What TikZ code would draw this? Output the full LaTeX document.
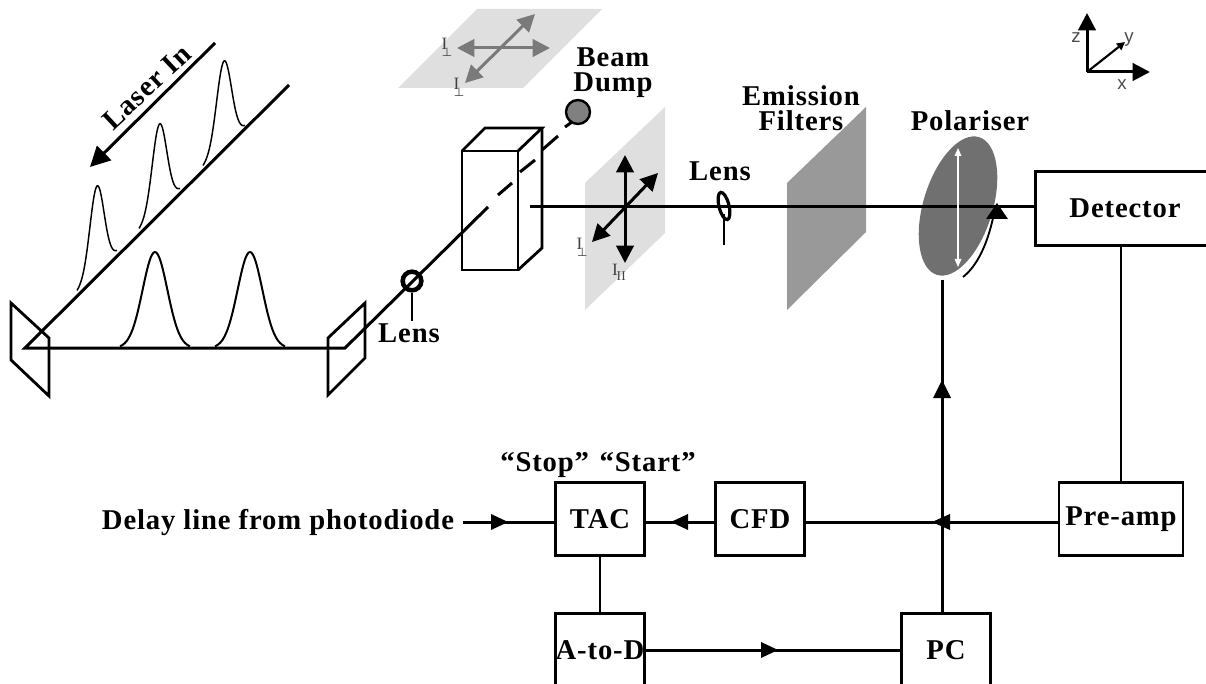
\documentclass[tikz,border=0pt]{standalone}
\usepackage{fontspec}
\setmainfont{Liberation Serif}[LetterSpace=3]
\setsansfont{Liberation Sans}
\usetikzlibrary{arrows.meta,shapes.geometric}
\newfontfamily\symfont{DejaVu Sans}
\definecolor{planelight}{HTML}{DFDFDF}
\definecolor{filtergray}{HTML}{999999}
\definecolor{polgray}{HTML}{707070}
\definecolor{arrowgray}{HTML}{7A7A7A}
\definecolor{dumpgray}{HTML}{808080}
\tikzset{
  beam/.style={line width=2.25pt,black},
  frame/.style={line width=2.1pt,black,line join=miter},
  blockbox/.style={draw=black,line width=2.1pt,minimum width=67pt,minimum height=54.5pt,inner sep=0pt,font=\fontsize{21.5}{21.5}\bfseries\selectfont,fill=white},
  lab/.style={inner sep=0pt,font=\fontsize{21.5}{21.5}\bfseries\selectfont,text=black},
  ilab/.style={inner sep=0pt,font=\fontsize{13}{13}\selectfont,text=black!75},
  axlab/.style={inner sep=0pt,font=\sffamily\fontsize{14}{14}\selectfont,text=black!70},
  bighead/.style={-{Triangle[length=13pt,width=13pt]}},
  bigheads/.style={{Triangle[length=13pt,width=13pt]}-{Triangle[length=13pt,width=13pt]}},
}
\newcommand{\pulsecurve}[6]{% x0 y0 x1 y1 height linewidth
  \draw[line width=#6,black,domain=0:1,samples=45,smooth,variable=\t]
    plot ({#1+\t*(#3-#1)},{#2+\t*(#4-#2)-#5*exp(-((\t-0.5)/0.25)*((\t-0.5)/0.25))});
}
\begin{document}
\begin{tikzpicture}[x=0.75pt,y=-0.75pt]
\useasboundingbox (0,0) rectangle (1206,684);
% planes
\fill[planelight] (398,88) -- (477,9) -- (602,9) -- (523,88) -- cycle;
\fill[planelight] (585,183) -- (665,107) -- (665,233) -- (585,310) -- cycle;
\fill[filtergray] (787,183) -- (866,107) -- (866,232) -- (787,310) -- cycle;
% top plane arrows
\coordinate (th1) at (457,48); \coordinate (th2) at (550,48);
\coordinate (td1) at (465,83); \coordinate (td2) at (535,14);
\draw[arrowgray,line width=2.25pt,bigheads] (th1) -- (th2);
\draw[arrowgray,line width=2.25pt,bigheads] (td1) -- (td2);
\node[ilab] (ta) at (447,47) {I\raisebox{-5pt}{\hspace{-4pt}\symfont\fontsize{9}{9}\selectfont ⊥}};
\node[ilab] (tb) at (459,87) {I\raisebox{-5pt}{\hspace{-4pt}\symfont\fontsize{9}{9}\selectfont ⊥}};
% pulses on incoming beam
\pulsecurve{77}{292}{117}{252}{86}{1.1pt}
\pulsecurve{139}{230}{180}{190}{86}{1.1pt}
\pulsecurve{203}{167}{245}{127}{86}{1.1pt}
% pulses on lower beam
\pulsecurve{120}{348}{190}{348}{96}{1.5pt}
\pulsecurve{215}{348}{285}{348}{96}{1.5pt}
% mirrors
\draw[frame] (11,303) -- (49,338) -- (49,396) -- (11,360) -- cycle;
\draw[frame] (328,338) -- (365,303) -- (365,358) -- (328,395) -- cycle;
% beams
\coordinate (m1) at (25,348); \coordinate (m2) at (345,348);
\coordinate (in) at (289,85);
\draw[beam,line join=miter] (in) -- (m1) -- (m2) -- (488,207);
\draw[beam] (498,195) -- (512,183);
\draw[beam] (520,172) -- (535,160);
\draw[beam] (542,150) -- (558,136);
\draw[beam] (565,127) -- (572,122);
% Laser In
\coordinate (la) at (215,43); \coordinate (lb) at (90,167);
\draw[beam,-{Triangle[length=15pt,width=15pt]}] (la) -- (lb);
\node[lab,rotate=43] (laser) at (147,87) {Laser In};
% lens 1
\node[draw=black,line width=3.4pt,circle,minimum size=14pt,inner sep=0pt] (lens1) at (412,281) {};
\coordinate (lens1s) at (412,321);
\draw[line width=1.8pt] (lens1) -- (lens1s);
\node[lab] (lens1l) at (409,333) {Lens};
% cube
\draw[frame] (462,151) rectangle (518,270);
\draw[frame] (462,151) -- (485,128) -- (542,128) -- (518,151);
\draw[frame] (542,128) -- (542,248) -- (518,270);
% beam dump
\node[draw=black,line width=1.8pt,circle,fill=dumpgray,minimum size=18pt,inner sep=0pt] (dump) at (578,112) {};
\node[lab,align=center] (dumpl) at (613,73) {Beam\\[-3pt]Dump};
% detector beam
\coordinate (bs) at (530,207);
\node[draw=black,line width=2.1pt,anchor=north west,minimum width=150pt,minimum height=55.5pt,inner sep=0pt] (det) at (1034,170) {};
\node[lab] (detl) at (1125,208) {Detector};
% polariser
\node[fill=polgray,draw=none,ellipse,rotate=-17,minimum width=52pt,minimum height=108pt,inner sep=0pt] (pol) at (958,206) {};
\draw[beam] (bs) -- (det.west |- bs);
% right plane arrows
\coordinate (ra1) at (625,155); \coordinate (ra2) at (625,263);
\coordinate (rb1) at (592,242); \coordinate (rb2) at (658,173);
\draw[beam,bigheads] (ra1) -- (ra2);
\draw[beam,bigheads] (rb1) -- (rb2);
\node[ilab] (ia) at (582,247) {I\raisebox{-5pt}{\hspace{-4pt}\symfont\fontsize{9}{9}\selectfont ⊥}};
\node[ilab] (ib) at (619,272) {I\raisebox{-4pt}{\hspace{-1pt}\fontsize{10}{10}\selectfont II}};
% lens 2
\draw[line width=2.4pt,rotate around={14:(724,206)}] (724,206) ellipse [x radius=5,y radius=14];
\coordinate (l2a) at (724,214); \coordinate (l2b) at (724,245);
\draw[line width=1.5pt] (l2a) -- (l2b);
\node[lab] (lens2l) at (720,171) {Lens};
% filters label
\node[lab,align=center] (filt) at (801,108) {Emission\\[-3pt]Filters};
\node[lab] (poll) at (970,121) {Polariser};
% polariser arrows
\coordinate (pa) at (958,148); \coordinate (pb) at (958,267);
\draw[white,line width=0.9pt,{Triangle[length=6pt,width=5pt]}-{Triangle[length=6pt,width=5pt]}] (pa) -- (pb);
\coordinate (pc1) at (963,277); \coordinate (pc2) at (993,218);
\draw[line width=1.4pt,black] (pc1) .. controls (977,266) and (987,245) .. (pc2);
\fill[black] (997,203) -- (1008,219) -- (986,219) -- cycle;
% blocks
\node[blockbox,minimum width=93pt] (pre) at (1121,519) {\raisebox{-1.5pt}{Pre-amp}};
\node[blockbox] (cfd) at (760,519) {CFD};
\node[blockbox] (tac) at (600,519) {TAC};
\node[blockbox,anchor=north] (ad) at (600,612) {};
\node[blockbox,anchor=north] (pc) at (946,612) {};
\node[lab] (adl) at (600,650) {A-to-D};
\node[lab] (pcl) at (946,650) {PC};
% connectors
\draw[line width=2pt] (det.south -| pre) -- (pre.north);
\draw[beam] (pre.west |- 0,522) -- (cfd.east |- 0,522);
\draw[beam] (cfd.west |- 0,522) -- (tac.east |- 0,522);
\coordinate (delay) at (463,522);
\draw[beam] (delay) -- (delay -| tac.west);
\draw[line width=2pt] (tac.south) -- (tac.south |- ad.north);
\coordinate (polb) at (942,280);
\coordinate (pcj) at (942,612);
\draw[beam] (polb) -- (pcj);
\draw[beam] (ad.east |- 0,650) -- (pc.west |- 0,650);
% arrow heads
\fill[black] (508,522) -- (491,514) -- (491,530) -- cycle;
\fill[black] (671,522) -- (688,514) -- (688,530) -- cycle;
\fill[black] (932,522) -- (950,514) -- (950,530) -- cycle;
\fill[black] (778,650) -- (761,642) -- (761,658) -- cycle;
\fill[black] (942,380) -- (951,398) -- (933,398) -- cycle;
% labels
\node[lab] (delayl) at (278,522) {Delay line from photodiode};
\node[lab] (stops) at (598,465) {“Stop”\hspace{8pt}“Start”};
% axes
\coordinate (o) at (1087,72);
\coordinate (oz) at (1087,13); \coordinate (oy) at (1125,42); \coordinate (ox) at (1150,72);
\draw[line width=2.25pt,bighead] (o) -- (oz);
\draw[line width=2.25pt,bighead] (o) -- (ox);
\draw[line width=1.6pt,-{Triangle[length=6pt,width=6pt]}] (o) -- (oy);
\node[axlab] (zl) at (1076,38) {z};
\node[axlab] (yl) at (1129,40) {y};
\node[axlab] (xl) at (1122,85) {x};
\end{tikzpicture}
\end{document}
